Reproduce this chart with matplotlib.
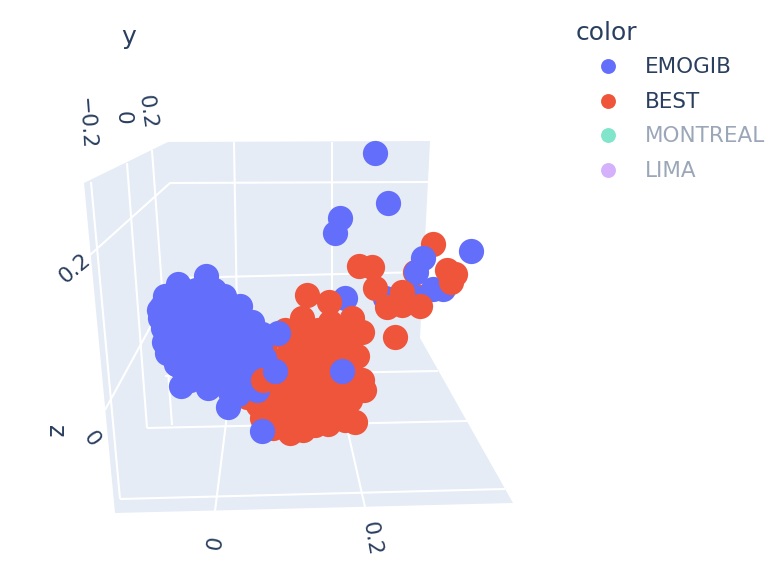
import matplotlib
matplotlib.use('Agg')
import matplotlib.pyplot as plt

# projected positions of the points
best_back_x = [433, 415, 416, 250]
best_back_y = [244, 272, 296, 385]

emogib_back_x = [375, 388, 340, 335, 471, 345, 385, 414, 433, 443, 423, 416]
emogib_back_y = [153, 203, 218, 233, 251, 298, 298, 297, 289, 289, 258, 272]

best_x = [359, 372, 375, 447, 455, 451, 402, 387, 402, 420, 395,
          307, 329, 302, 330, 352, 362, 285, 318, 340, 300, 267,
          290, 310, 330, 350, 357, 280, 300, 320, 340,
          270, 290, 310, 330, 350, 280, 300, 320, 340, 364, 362,
          258, 275, 295, 315, 335, 345, 262, 280, 303, 328, 355,
          290, 303, 273, 335, 247, 350, 345, 270, 285, 315, 320, 345, 275, 255]
best_y = [266, 267, 288, 270, 274, 282, 292, 307, 305, 306, 337,
          295, 302, 318, 322, 318, 332, 330, 330, 332, 335, 340,
          345, 345, 345, 345, 356, 360, 360, 360, 358,
          378, 375, 375, 375, 375, 390, 390, 390, 390, 390, 380,
          405, 405, 405, 405, 405, 410, 418, 420, 420, 424, 422,
          433, 430, 428, 418, 397, 400, 395, 415, 425, 425, 412, 420, 395, 398]

emogib_x = [178, 206, 196, 214, 224, 162, 172, 188, 204, 222, 240, 252, 262,
            159, 170, 186, 204, 222, 238, 163, 168, 184, 202, 220, 238, 250, 260,
            164, 167, 180, 198, 216, 234, 250, 264, 176, 192, 210, 228, 246, 256,
            198, 208, 224, 240, 230, 238, 181, 228, 257,
            160, 165, 166, 172, 178, 190, 216, 245, 258, 252, 190, 205, 165]
emogib_y = [284, 276, 290, 290, 296, 306, 298, 300, 302, 308, 306, 322, 334,
            310, 316, 316, 318, 322, 322, 328, 332, 332, 334, 336, 336, 338, 346,
            342, 353, 348, 350, 352, 350, 352, 358, 364, 366, 368, 366, 366, 372,
            378, 388, 384, 378, 392, 394, 386, 407, 390,
            318, 320, 345, 345, 365, 380, 378, 355, 355, 378, 292, 285, 296]

best_front_x = [263]
best_front_y = [380]

emogib_front_x = [278, 275, 342, 262]
emogib_front_y = [333, 371, 371, 431]

groups = ['EMOGIB', 'BEST', 'MONTREAL', 'LIMA']
group_colors = ['#636efa', '#EF553B', '#80e5ca', '#d5b1fc']
group_text = ['#2a3f5f', '#2a3f5f', '#9ba6b8', '#9ba6b8']
legend_y = [66, 101, 135, 170]

# scene walls and grid as they appear after the 3d projection
panel_x = [84, 168, 430, 420, 513, 115]
panel_y = [183, 142, 141, 338, 503, 513]
grid_lines = [
    ([91, 120], [182, 499]),
    ([127, 147], [163, 428]),
    ([152, 172], [150, 425]),
    ([234, 238], [142, 375]),
    ([332, 332], [142, 375]),
    ([90, 170, 429], [255, 183, 182]),
    ([105, 177, 425], [410, 278, 272]),
    ([165, 438], [376, 371]),
    ([147, 467], [428, 421]),
    ([120, 505], [499, 489]),
    ([215, 232], [511, 375]),
    ([365, 335], [507, 375]),
]

tick_text = [('0.2', 147, 112, -82), ('0', 123, 118, -90), ('\u22120.2', 86, 124, -86),
             ('0.2', 75, 268, 40), ('0', 91, 439, -55),
             ('0', 209, 544, -100), ('0.2', 372, 539, -80)]

fig = plt.figure(figsize=(7.82, 5.72), dpi=100)
ax = fig.add_axes([0, 0, 1, 1])
ax.set_xlim(0, 782)
ax.set_ylim(572, 0)
ax.axis('off')

ax.fill(panel_x, panel_y, color='#E5ECF6', lw=0, zorder=1)
for gx, gy in grid_lines:
    ax.plot(gx, gy, color='white', lw=1.5, zorder=2, solid_capstyle='butt')

size = 330
ax.scatter(best_back_x, best_back_y, s=size, c='#EF553B', lw=0, zorder=3)
ax.scatter(emogib_back_x, emogib_back_y, s=size, c='#636efa', lw=0, zorder=4)
ax.scatter(best_x, best_y, s=size, c='#EF553B', lw=0, zorder=5)
ax.scatter(emogib_x, emogib_y, s=size, c='#636efa', lw=0, zorder=6)
ax.scatter(best_front_x, best_front_y, s=size, c='#EF553B', lw=0, zorder=7)
ax.scatter(emogib_front_x, emogib_front_y, s=size, c='#636efa', lw=0, zorder=8)

txt = '#2a3f5f'
for label, tx, ty, rot in tick_text:
    ax.text(tx, ty, label, fontsize=15.5, color=txt, rotation=rot, ha='center', va='center')
ax.text(129, 37, 'y', fontsize=18, color=txt, rotation=0, ha='center', va='center')
ax.text(55, 431, 'z', fontsize=17, color=txt, rotation=-90, ha='center', va='center')

# legend
ax.text(576, 33, 'color', fontsize=18, color=txt, ha='left', va='center')
for name, col, tcol, ly in zip(groups, group_colors, group_text, legend_y):
    ax.scatter([608], [ly], s=115, c=col, lw=0, zorder=3)
    ax.text(645, ly + 1, name, fontsize=15.5, color=tcol, ha='left', va='center')

fig.savefig('out.png', dpi=100)
